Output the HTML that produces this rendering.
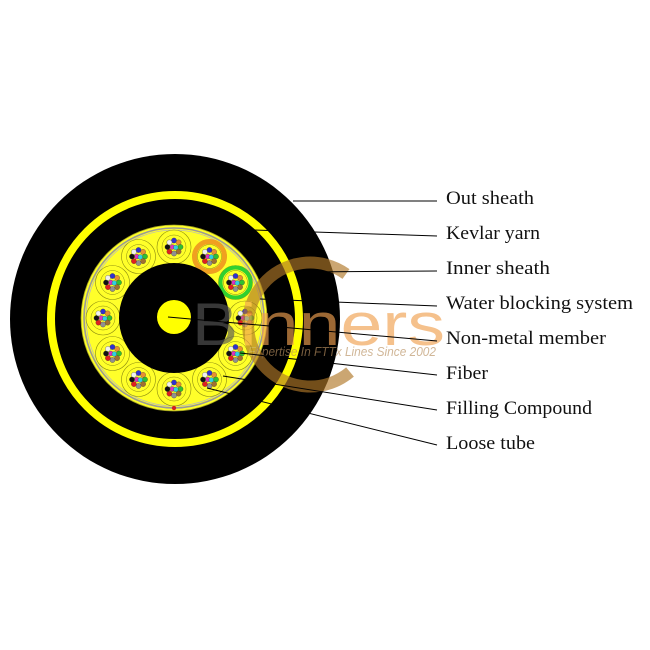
<!DOCTYPE html>
<html><head><meta charset="utf-8"><style>html,body{margin:0;padding:0;background:#fff}svg{display:block}</style></head>
<body>
<svg width="650" height="650" viewBox="0 0 650 650" xmlns="http://www.w3.org/2000/svg">
<defs>
<g id="tube">
<circle r="17" fill="#ffff2a" stroke="#8a8a10" stroke-width="0.6"/>
<circle r="12" fill="none" stroke="#8a8a10" stroke-width="0.5"/>
<circle cx="0" cy="-6.5" r="2.6" fill="#3030d0" stroke="#333" stroke-width="0.3"/>
<circle cx="4.6" cy="-4.6" r="2.6" fill="#e89030" stroke="#333" stroke-width="0.3"/>
<circle cx="6.5" cy="0" r="2.6" fill="#30c030" stroke="#333" stroke-width="0.3"/>
<circle cx="4.6" cy="4.6" r="2.6" fill="#a07030" stroke="#333" stroke-width="0.3"/>
<circle cx="0" cy="6.5" r="2.6" fill="#909090" stroke="#333" stroke-width="0.3"/>
<circle cx="-4.6" cy="4.6" r="2.6" fill="#e02020" stroke="#333" stroke-width="0.3"/>
<circle cx="-6.5" cy="0" r="2.6" fill="#111" stroke="#333" stroke-width="0.3"/>
<circle cx="-4.6" cy="-4.6" r="2.6" fill="#f0f0f0" stroke="#333" stroke-width="0.3"/>
<circle cx="-1.6" cy="0" r="2.4" fill="#e030c0" stroke="#333" stroke-width="0.3"/>
<circle cx="1.8" cy="0.5" r="2.4" fill="#30d0e0" stroke="#333" stroke-width="0.3"/>
</g>
</defs>
<circle cx="175" cy="319" r="165" fill="#000"/>
<circle cx="175" cy="319" r="124" fill="none" stroke="#ffff00" stroke-width="8"/>
<circle cx="174" cy="318" r="93" fill="#ffff2a" stroke="#a0a020" stroke-width="0.8"/>
<circle cx="174" cy="318" r="90" fill="none" stroke="#999" stroke-width="1.6"/>
<circle cx="174" cy="318" r="88" fill="none" stroke="#bbb" stroke-width="0.8"/>
<g transform="translate(174,318)">
<use href="#tube" transform="rotate(0) translate(0,-71) rotate(0)"/>
<use href="#tube" transform="rotate(30) translate(0,-71) rotate(-30)"/>
<use href="#tube" transform="rotate(60) translate(0,-71) rotate(-60)"/>
<use href="#tube" transform="rotate(90) translate(0,-71) rotate(-90)"/>
<use href="#tube" transform="rotate(120) translate(0,-71) rotate(-120)"/>
<use href="#tube" transform="rotate(150) translate(0,-71) rotate(-150)"/>
<use href="#tube" transform="rotate(180) translate(0,-71) rotate(-180)"/>
<use href="#tube" transform="rotate(210) translate(0,-71) rotate(-210)"/>
<use href="#tube" transform="rotate(240) translate(0,-71) rotate(-240)"/>
<use href="#tube" transform="rotate(270) translate(0,-71) rotate(-270)"/>
<use href="#tube" transform="rotate(300) translate(0,-71) rotate(-300)"/>
<use href="#tube" transform="rotate(330) translate(0,-71) rotate(-330)"/>
<circle cx="35.5" cy="-61.5" r="15" fill="none" stroke="#f0a020" stroke-width="5"/>
<circle cx="61.5" cy="-35.5" r="15" fill="none" stroke="#30d030" stroke-width="4"/>
</g>
<circle cx="174" cy="318" r="55" fill="#000"/>
<circle cx="174" cy="317" r="17" fill="#ffff00"/>
<circle cx="174" cy="408" r="2.2" fill="#d02020"/>
<!-- watermark -->
<g opacity="0.65">
<path d="M 346 274 A 62 62 0 1 0 350 372" fill="none" stroke="#b07828" stroke-width="12"/>
<text x="192" y="345" font-family="Liberation Sans, sans-serif" font-size="60" fill="#555" textLength="46" lengthAdjust="spacingAndGlyphs">B</text>
<text x="240" y="345" font-family="Liberation Sans, sans-serif" font-size="60" fill="#f0a050" textLength="205" lengthAdjust="spacingAndGlyphs">inners</text>
<text x="248" y="356" font-family="Liberation Sans, sans-serif" font-style="italic" font-size="13" fill="#b89060" textLength="188" lengthAdjust="spacingAndGlyphs">Expertise In FTTx Lines Since 2002</text>
</g>
<g stroke="#000" stroke-width="1">
<line x1="293" y1="201" x2="437" y2="201"/>
<line x1="253" y1="230" x2="437" y2="236"/>
<line x1="300" y1="272" x2="437" y2="271"/>
<line x1="260" y1="299" x2="437" y2="306"/>
<line x1="168" y1="317" x2="437" y2="341"/>
<line x1="240" y1="353" x2="437" y2="375"/>
<line x1="223" y1="376" x2="437" y2="410"/>
<line x1="207" y1="388" x2="437" y2="445"/>
</g>
<g font-family="Liberation Serif, serif" font-size="19" fill="#111">
<text x="446" y="204" textLength="88" lengthAdjust="spacingAndGlyphs">Out sheath</text>
<text x="446" y="239" textLength="94" lengthAdjust="spacingAndGlyphs">Kevlar yarn</text>
<text x="446" y="274" textLength="104" lengthAdjust="spacingAndGlyphs">Inner sheath</text>
<text x="446" y="309" textLength="187" lengthAdjust="spacingAndGlyphs">Water blocking system</text>
<text x="446" y="344" textLength="160" lengthAdjust="spacingAndGlyphs">Non-metal member</text>
<text x="446" y="379" textLength="42" lengthAdjust="spacingAndGlyphs">Fiber</text>
<text x="446" y="414" textLength="146" lengthAdjust="spacingAndGlyphs">Filling Compound</text>
<text x="446" y="449" textLength="89" lengthAdjust="spacingAndGlyphs">Loose tube</text>
</g>
</svg>
</body></html>
